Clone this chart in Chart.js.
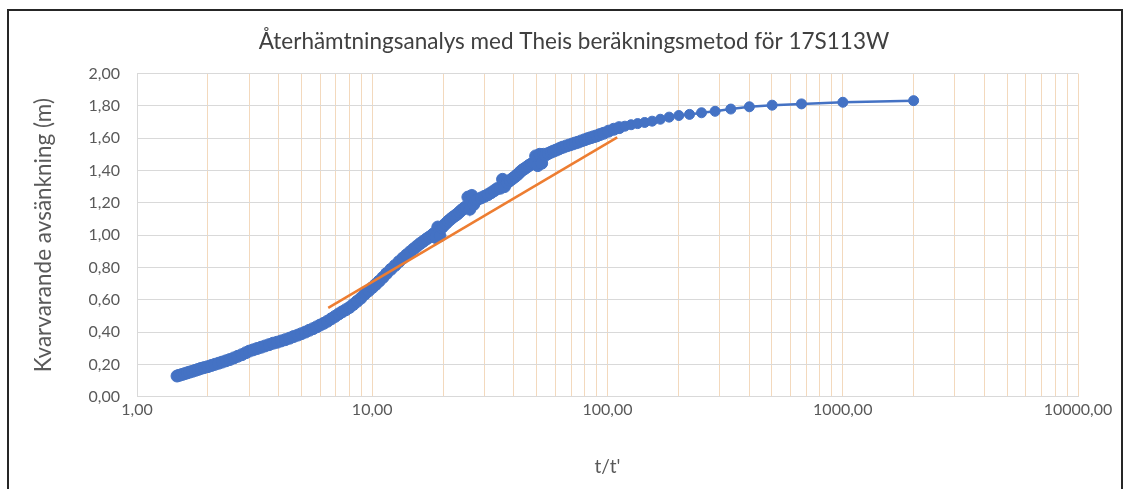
<!DOCTYPE html>
<html>
<head>
<meta charset="utf-8">
<script src="https://cdn.jsdelivr.net/npm/chart.js@4.4.1/dist/chart.umd.min.js"></script>
<style>
  html, body { margin: 0; padding: 0; background: #ffffff; }
  #wrap { position: relative; width: 1130px; height: 489px; overflow: hidden; }
  #wrap canvas { position: absolute; left: 0; top: 0; }
  #frame { position: absolute; left: 7px; top: 9px; width: 1116px; height: 520px;
           border: 2px solid #262626; box-sizing: border-box; pointer-events: none; }
</style>
</head>
<body>
<div id="wrap">
  <canvas id="chart" width="1130" height="489"></canvas>
  <div id="frame"></div>
</div>
<script>
// Recovery test, well 17S113W: residual drawdown against t/t'
const chartTitle = 'Återhämtningsanalys med Theis beräkningsmetod för 17S113W';
const xAxisTitle = "t/t'";
const yAxisTitle = 'Kvarvarande avsänkning (m)';

// Measured points: t/t' (x) and residual drawdown in metres (y)
const ratioValues = [
  1.48, 1.51, 1.55, 1.59, 1.63, 1.67, 1.72, 1.77, 1.82, 1.87, 1.93, 2.00,
  2.07, 2.14, 2.22, 2.30, 2.39, 2.48, 2.58, 2.68, 2.79, 2.90, 3.00, 3.12,
  3.24, 3.37, 3.50, 3.64, 3.79, 3.94, 4.10, 4.27, 4.45, 4.63, 4.82, 5.00,
  5.20, 5.40, 5.60, 5.80, 6.00, 6.22, 6.45, 6.70, 6.95, 7.20, 7.45, 7.72,
  8.00, 8.30, 8.62, 8.95, 9.30, 9.65, 10.00, 10.35, 10.70, 11.10, 11.50, 12.00,
  12.50, 13.00, 13.50, 14.00, 14.50, 15.00, 15.50, 16.00, 16.50, 17.00, 17.50, 18.00,
  18.30, 18.60, 19.00, 19.40, 19.70, 20.00, 20.50, 21.00, 21.50, 22.00, 22.50, 23.00,
  23.50, 24.00, 24.50, 25.00, 25.50, 26.00, 26.50, 27.00, 27.50, 28.00, 29.00, 30.00,
  31.00, 32.00, 33.00, 34.00, 35.00, 35.80, 36.50, 37.50, 38.50, 39.50, 40.50, 41.50,
  42.50, 43.50, 44.50, 45.50, 46.50, 47.50, 48.50, 49.50, 50.50, 51.50, 52.50, 53.50,
  54.50, 56.00, 57.50, 59.00, 60.50, 62.00, 63.50, 65.00, 67.00, 69.00, 71.00, 73.00,
  75.00, 77.50, 80.00, 82.50, 85.00, 87.50, 90.00, 92.80, 96.20, 101.0, 106.3, 112.1,
  118.6, 126.0, 134.3, 143.9, 154.8, 167.7, 182.8, 201.0, 223.2, 251.0, 286.7, 334.3,
  401.0, 501.0, 667.7, 1001, 2001
];
const drawdownValues = [
  0.128, 0.132, 0.137, 0.142, 0.147, 0.152, 0.157, 0.163, 0.169, 0.175, 0.180, 0.186,
  0.193, 0.200, 0.207, 0.214, 0.222, 0.230, 0.240, 0.250, 0.260, 0.272, 0.282, 0.290,
  0.298, 0.306, 0.314, 0.322, 0.331, 0.337, 0.345, 0.353, 0.362, 0.372, 0.381, 0.390,
  0.400, 0.411, 0.421, 0.432, 0.443, 0.454, 0.467, 0.482, 0.497, 0.512, 0.525, 0.538,
  0.552, 0.570, 0.590, 0.610, 0.635, 0.655, 0.675, 0.695, 0.715, 0.738, 0.762, 0.788,
  0.812, 0.836, 0.858, 0.878, 0.897, 0.915, 0.932, 0.948, 0.962, 0.976, 0.988, 1.000,
  1.010, 0.985, 1.050, 0.995, 1.045, 1.055, 1.070, 1.085, 1.098, 1.110, 1.120, 1.130,
  1.143, 1.155, 1.165, 1.175, 1.235, 1.160, 1.245, 1.190, 1.215, 1.220, 1.230, 1.240,
  1.250, 1.262, 1.275, 1.288, 1.290, 1.345, 1.300, 1.325, 1.338, 1.350, 1.362, 1.375,
  1.390, 1.403, 1.412, 1.422, 1.432, 1.440, 1.448, 1.490, 1.430, 1.500, 1.445, 1.500,
  1.495, 1.505, 1.513, 1.520, 1.526, 1.533, 1.540, 1.545, 1.552, 1.558, 1.564, 1.570,
  1.575, 1.583, 1.590, 1.597, 1.603, 1.609, 1.614, 1.622, 1.630, 1.643, 1.655, 1.665,
  1.674, 1.683, 1.690, 1.697, 1.705, 1.717, 1.730, 1.740, 1.747, 1.757, 1.766, 1.780,
  1.794, 1.804, 1.812, 1.822, 1.832
];

// Straight-line fit drawn across the semi-log section
const fitRatio = [6.5, 110];
const fitDrawdown = [0.55, 1.605];

// Axis ticks
const xLabelValues = [1, 10, 100, 1000, 10000];
const xTickLabels = ['1,00', '10,00', '100,00', '1000,00', '10000,00'];
const yTickValues = [0, 0.2, 0.4, 0.6, 0.8, 1.0, 1.2, 1.4, 1.6, 1.8, 2.0];
const yTickLabels = ['0,00', '0,20', '0,40', '0,60', '0,80', '1,00', '1,20', '1,40', '1,60', '1,80', '2,00'];

const measured = ratioValues.map((x, i) => ({ x: x, y: drawdownValues[i] }));
const fitLine = fitRatio.map((x, i) => ({ x: x, y: fitDrawdown[i] }));

// Log grid: every 1..9 step of each decade
const gridValues = [];
for (let e = 0; e < 4; e++) {
  for (let m = 1; m < 10; m++) gridValues.push(m * Math.pow(10, e));
}
gridValues.push(10000);

const FONT = 'Lato, "Open Sans", sans-serif';
const TEXT = '#595959';

new Chart(document.getElementById('chart'), {
  type: 'scatter',
  data: {
    datasets: [
      {
        label: 'Anpassning',
        data: fitLine,
        showLine: true,
        borderColor: '#ED7D31',
        borderWidth: 2.5,
        pointRadius: 0,
        order: 0
      },
      {
        label: 'Mätvärden',
        data: measured,
        showLine: true,
        borderColor: '#4472C4',
        borderWidth: 2.5,
        backgroundColor: '#4472C4',
        pointBackgroundColor: '#4472C4',
        pointBorderColor: '#4472C4',
        pointBorderWidth: 1,
        // dense early readings overlap into a wider band
        pointRadius: (ctx) => (ctx.raw && ctx.raw.x < 115 ? 6 : 5),
        order: 1
      }
    ]
  },
  options: {
    responsive: false,
    animation: false,
    devicePixelRatio: 1,
    layout: { padding: { left: 27.4, right: 9.4, top: 10, bottom: 0 } },
    plugins: {
      legend: { display: false },
      tooltip: { enabled: false },
      title: {
        display: true,
        text: chartTitle,
        color: '#404040',
        font: { family: FONT, size: 22.5, weight: 'normal' },
        padding: { top: 18.5, bottom: 18.0 }
      }
    },
    scales: {
      x: {
        type: 'logarithmic',
        min: 1,
        max: 10000,
        afterBuildTicks: (scale) => {
          scale.ticks = gridValues.map(v => ({ value: v, major: xLabelValues.includes(v) }));
        },
        afterFit: (scale) => { scale.height = 92.3; },
        ticks: {
          autoSkip: false,
          maxRotation: 0,
          padding: 4,
          color: TEXT,
          font: { family: FONT, size: 16 },
          callback: (value) => {
            const i = xLabelValues.indexOf(value);
            return i >= 0 ? xTickLabels[i] : '';
          }
        },
        grid: { color: '#f3d9bd', lineWidth: 1, drawTicks: false },
        border: { display: true, color: '#d9d9d9' },
        title: {
          display: true,
          text: xAxisTitle,
          color: TEXT,
          font: { family: FONT, size: 19 },
          padding: 10.6
        }
      },
      y: {
        min: 0,
        max: 2,
        afterBuildTicks: (scale) => {
          scale.ticks = yTickValues.map(v => ({ value: v }));
        },
        afterFit: (scale) => { scale.width = 109.6; },
        ticks: {
          padding: 17,
          color: TEXT,
          font: { family: FONT, size: 16 },
          callback: (value, index) => yTickLabels[index]
        },
        grid: { color: '#d9d9d9', lineWidth: 1, drawTicks: false },
        border: { display: true, color: '#d9d9d9' },
        title: {
          display: true,
          text: yAxisTitle,
          color: TEXT,
          font: { family: FONT, size: 22.5 },
          padding: 3
        }
      },
      // empty right-hand margin box so the plot ends where the frame's inner margin begins
      yRight: {
        position: 'right',
        display: true,
        min: 0,
        max: 2,
        afterFit: (scale) => { scale.width = 42.6; },
        ticks: { display: false },
        grid: { display: false, drawTicks: false },
        border: { display: false },
        title: { display: false }
      }
    }
  }
});
</script>
</body>
</html>
